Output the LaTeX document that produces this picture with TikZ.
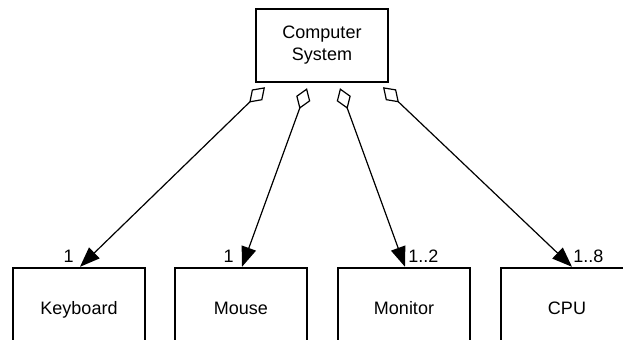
\documentclass[tikz,border=0pt]{standalone}
\usepackage{fontspec}
\setmainfont{Liberation Sans}
\usetikzlibrary{arrows.meta}
\begin{document}
\begin{tikzpicture}[x=0.5pt,y=-0.5pt,
  txt/.style={font=\fontsize{9}{11}\selectfont},
  classbox/.style={txt, draw, line width=1.2pt, inner sep=0pt,
    minimum width=66pt, text height=6.45pt, text depth=0pt},
  partbox/.style={classbox, minimum height=40pt},
  whole/.style={classbox, minimum height=36.5pt, align=center,
    text height=, text depth=},
  mult/.style={txt, inner sep=0pt},
  aggr/.style={line width=0.6pt,
    {Diamond[open,length=11pt,width=7.5pt]}-{Triangle[length=10pt,width=7.5pt]}}
]
\useasboundingbox (0,0) rectangle (623,339);
\clip (0,0) rectangle (623,339);

% the aggregate
\node[whole] (cs) at (322,45.5) {Computer\\System};

% the parts
\node[partbox] (kb)  at (79,308)  {Keyboard};
\node[partbox] (ms)  at (241,308) {Mouse};
\node[partbox] (mn)  at (404,308) {Monitor};
\node[partbox] (cpu) at (567,308) {CPU};

% diamond ends just below the aggregate
\coordinate (s1) at ([shift={(-57,4)}]cs.south);
\coordinate (s2) at ([shift={(-15,5)}]cs.south);
\coordinate (s3) at ([shift={(18,5)}]cs.south);
\coordinate (s4) at ([shift={(61,4)}]cs.south);

% arrow ends on the parts
\coordinate (t1) at ([shift={(1,0)}]kb.north);
\coordinate (t2) at ([shift={(1,0)}]ms.north);
\coordinate (t3) at ([shift={(1,0)}]mn.north);
\coordinate (t4) at ([shift={(5,0)}]cpu.north);

\draw[aggr] (s1) -- (t1);
\draw[aggr] (s2) -- (t2);
\draw[aggr] (s3) -- (t3);
\draw[aggr] (s4) -- (t4);

% multiplicities
\node[mult, anchor=base east] (m1) at ([shift={(-5,-4)}]kb.north) {1};
\node[mult, anchor=base east] (m2) at ([shift={(-7,-4)}]ms.north) {1};
\node[mult, anchor=base west] (m3) at ([shift={(4,-4)}]mn.north) {1..2};
\node[mult, anchor=base west] (m4) at ([shift={(6,-4)}]cpu.north) {1..8};
\end{tikzpicture}
\end{document}
